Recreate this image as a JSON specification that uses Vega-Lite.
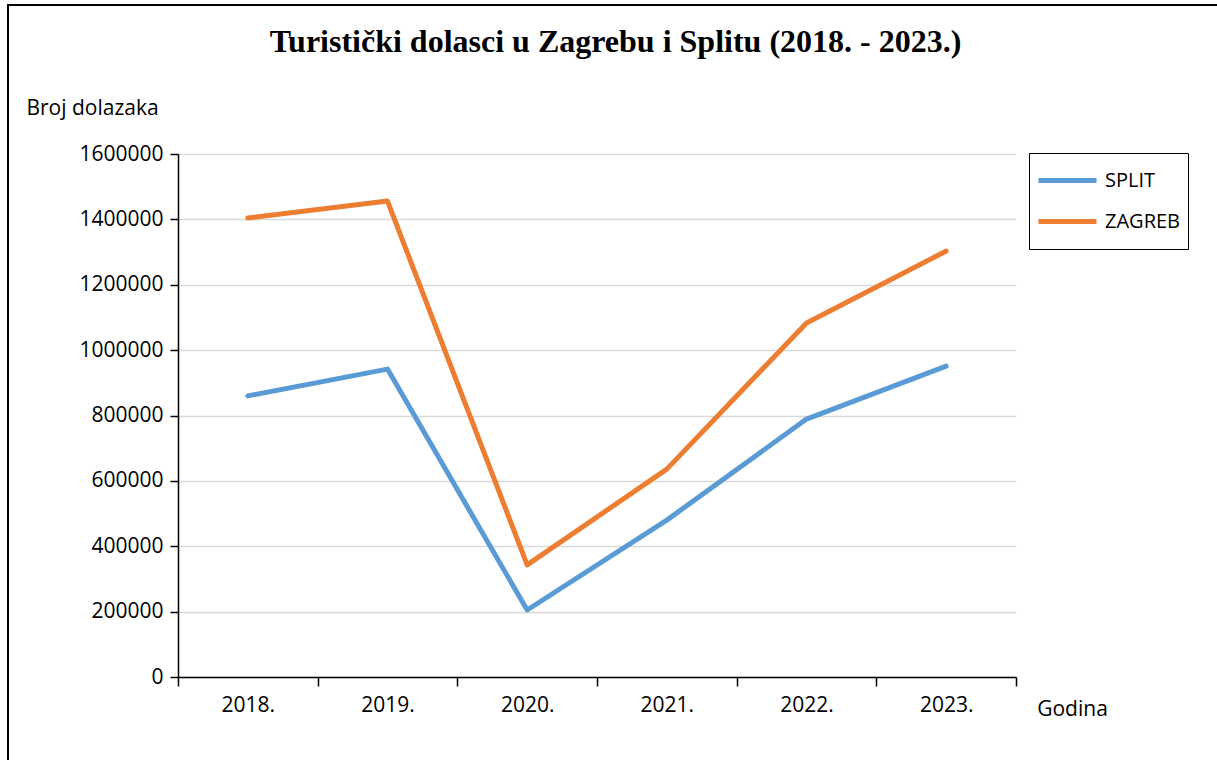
{
  "$schema": "https://vega.github.io/schema/vega-lite/v6.json",
  "width": 1215,
  "height": 760,
  "autosize": {"type": "none"},
  "padding": {"left": 8, "top": 5, "right": 0, "bottom": 0},
  "background": "white",
  "config": {
    "view": {"stroke": "black", "strokeWidth": 2},
    "axis": {
      "domainColor": "black", "domainWidth": 1.5,
      "tickColor": "black", "tickWidth": 1.5,
      "labelColor": "black", "titleColor": "black",
      "labelFont": "Open Sans", "titleFont": "Open Sans",
      "labelFontSize": 21, "titleFontSize": 21, "titleFontWeight": "normal",
      "gridColor": "#d9d9d9", "gridWidth": 1.5
    }
  },
  "title": {
    "text": "Turistički dolasci u Zagrebu i Splitu (2018. - 2023.)",
    "font": "Liberation Serif", "fontSize": 32, "fontWeight": "bold", "color": "black",
    "anchor": "middle", "orient": "top", "offset": 0, "baseline": "alphabetic", "dy": 79
  },
  "data": {
    "values": [
      {"year": "2018.", "city": "SPLIT", "value": 860000},
      {"year": "2019.", "city": "SPLIT", "value": 942000},
      {"year": "2020.", "city": "SPLIT", "value": 205000},
      {"year": "2021.", "city": "SPLIT", "value": 480000},
      {"year": "2022.", "city": "SPLIT", "value": 789000},
      {"year": "2023.", "city": "SPLIT", "value": 951000},
      {"year": "2018.", "city": "ZAGREB", "value": 1404000},
      {"year": "2019.", "city": "ZAGREB", "value": 1456000},
      {"year": "2020.", "city": "ZAGREB", "value": 343000},
      {"year": "2021.", "city": "ZAGREB", "value": 636000},
      {"year": "2022.", "city": "ZAGREB", "value": 1083000},
      {"year": "2023.", "city": "ZAGREB", "value": 1303000}
    ]
  },
  "mark": {"type": "line", "strokeWidth": 5, "strokeCap": "round", "strokeJoin": "round"},
  "encoding": {
    "x": {
      "field": "year", "type": "nominal",
      "scale": {"type": "band", "range": [170, 1008], "paddingInner": 0, "paddingOuter": 0},
      "axis": {
        "title": "Godina", "orient": "bottom", "offset": -88,
        "tickBand": "extent", "tickSize": 9, "labelAngle": 0, "labelPadding": 8,
        "labelBaseline": "top", "grid": false,
        "titleX": 1064, "titleY": 32, "titleAlign": "center", "titleBaseline": "middle"
      }
    },
    "y": {
      "field": "value", "type": "quantitative",
      "scale": {"domain": [0, 1600000], "range": [672, 149], "nice": false, "zero": true},
      "axis": {
        "title": "Broj dolazaka", "orient": "left", "offset": -170,
        "values": [0, 200000, 400000, 600000, 800000, 1000000, 1200000, 1400000, 1600000],
        "format": "d", "tickSize": 8, "labelPadding": 7, "grid": true,
        "titleAngle": 0, "titleX": -86, "titleY": 103, "titleAlign": "center", "titleBaseline": "middle"
      }
    },
    "color": {
      "field": "city", "type": "nominal",
      "scale": {"domain": ["SPLIT", "ZAGREB"], "range": ["#5B9BD5", "#ED7D31"]},
      "legend": {
        "title": null, "orient": "none", "legendX": 1021, "legendY": 148,
        "strokeColor": "black", "fillColor": "white", "padding": 7,
        "symbolType": "stroke", "symbolSize": 3364, "symbolStrokeWidth": 5,
        "labelFont": "Open Sans", "labelFontSize": 20, "labelColor": "black",
        "labelOffset": 6, "rowPadding": 0, "clipHeight": 41
      }
    }
  }
}
